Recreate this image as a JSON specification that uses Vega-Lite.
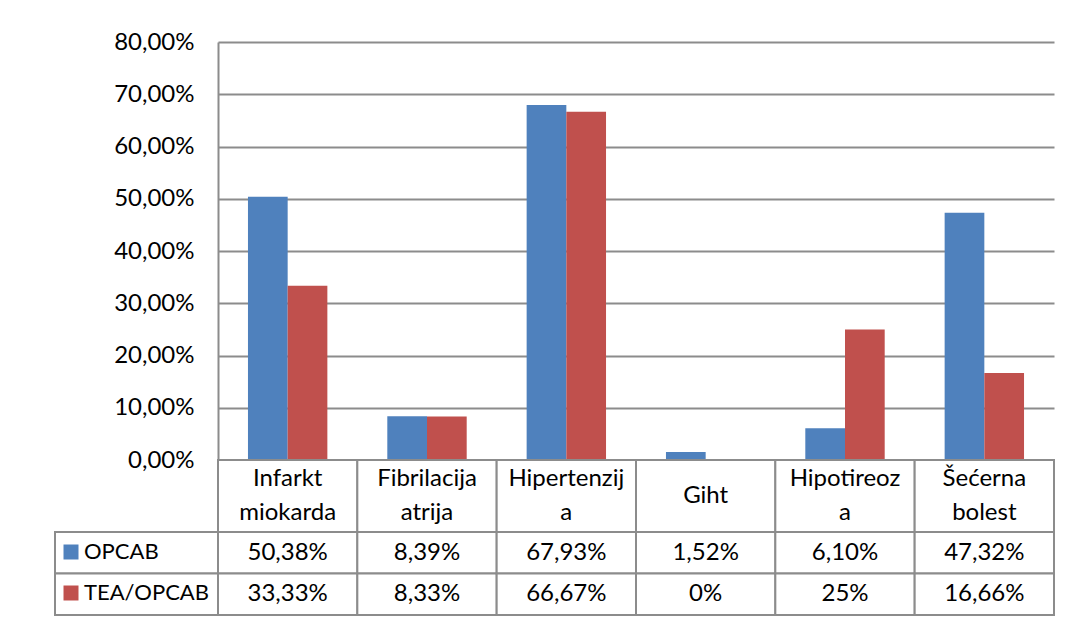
{
  "$schema": "https://vega.github.io/schema/vega-lite/v6.json",
  "padding": {"left": 54, "top": 30, "right": 5, "bottom": 5},
  "datasets": {
    "rows": [
      {"cat": "Infarkt miokarda", "series": "OPCAB", "value": 0.5038},
      {"cat": "Infarkt miokarda", "series": "TEA/OPCAB", "value": 0.3333},
      {"cat": "Fibrilacija atrija", "series": "OPCAB", "value": 0.0839},
      {"cat": "Fibrilacija atrija", "series": "TEA/OPCAB", "value": 0.0833},
      {"cat": "Hipertenzija", "series": "OPCAB", "value": 0.6793},
      {"cat": "Hipertenzija", "series": "TEA/OPCAB", "value": 0.6667},
      {"cat": "Giht", "series": "OPCAB", "value": 0.0152},
      {"cat": "Giht", "series": "TEA/OPCAB", "value": 0},
      {"cat": "Hipotireoza", "series": "OPCAB", "value": 0.061},
      {"cat": "Hipotireoza", "series": "TEA/OPCAB", "value": 0.25},
      {"cat": "Šećerna bolest", "series": "OPCAB", "value": 0.4732},
      {"cat": "Šećerna bolest", "series": "TEA/OPCAB", "value": 0.1666}
    ]
  },
  "columns": 2,
  "spacing": 0,
  "bounds": "flush",
  "concat": [
    {
      "width": 163, "height": 418,
      "data": {"values": [{}]},
      "mark": {"type": "text"},
      "encoding": {"text": {"value": ""}}
    },
    {
      "width": 836, "height": 418,
      "data": {"name": "rows"},
      "mark": {"type": "bar"},
      "encoding": {
        "x": {"field": "cat", "type": "nominal", "sort": null, "scale": {"paddingInner": 0, "paddingOuter": 0}, "axis": null},
        "xOffset": {"field": "series", "type": "nominal", "sort": null, "scale": {"paddingInner": 0, "paddingOuter": 0.755}},
        "y": {
          "field": "value", "type": "quantitative",
          "scale": {"domain": [0, 0.8], "nice": false},
          "axis": {
            "values": [0, 0.1, 0.2, 0.3, 0.4, 0.5, 0.6, 0.7, 0.8],
            "labelExpr": "replace(format(datum.value, '.2%'), '.', ',')",
            "title": null, "grid": true, "gridColor": "#8C8C8C", "gridWidth": 2,
            "ticks": false, "domainColor": "#8C8C8C", "domainWidth": 2,
            "labelFont": "Lato", "labelFontSize": 24, "labelColor": "#000000", "labelPadding": 24
          }
        },
        "color": {
          "field": "series", "type": "nominal", "sort": null,
          "scale": {"domain": ["OPCAB", "TEA/OPCAB"], "range": ["#4F81BD", "#C0504D"]},
          "legend": {
            "orient": "none", "legendX": 5, "legendY": 499,
            "title": null, "direction": "vertical",
            "symbolType": "square", "symbolSize": 225, "symbolStrokeWidth": 0, "symbolOpacity": 1,
            "labelFont": "Lato", "labelFontSize": 22, "labelColor": "#000000", "labelOffset": 2,
            "rowPadding": 19, "padding": 0
          }
        }
      }
    },
    {
      "width": 163, "height": 72,
      "data": {"values": [{}]},
      "mark": {"type": "text"},
      "encoding": {"text": {"value": ""}}
    },
    {
      "width": 836, "height": 72,
      "data": {"name": "rows"},
      "transform": [
        {"filter": "datum.series === 'OPCAB'"},
        {"calculate": "indexof(datum.cat, ' ') >= 0 ? split(datum.cat, ' ') : (length(datum.cat) > 10 ? [slice(datum.cat, 0, -1), slice(datum.cat, -1)] : datum.cat)", "as": "lines"}
      ],
      "encoding": {
        "x": {"field": "cat", "type": "nominal", "sort": null, "scale": {"paddingInner": 0, "paddingOuter": 0}, "axis": null}
      },
      "layer": [
        {"mark": {"type": "rect", "fill": "#FFFFFF", "stroke": "#8C8C8C", "strokeWidth": 2}},
        {
          "transform": [{"filter": "isArray(datum.lines)"}],
          "mark": {"type": "text", "font": "Lato", "fontSize": 24, "lineHeight": 34, "align": "center", "baseline": "middle", "dy": -17, "color": "#000000"},
          "encoding": {"text": {"field": "lines", "type": "nominal"}}
        },
        {
          "transform": [{"filter": "!isArray(datum.lines)"}],
          "mark": {"type": "text", "font": "Lato", "fontSize": 24, "align": "center", "baseline": "middle", "color": "#000000"},
          "encoding": {"text": {"field": "lines", "type": "nominal"}}
        }
      ]
    },
    {
      "width": 163, "height": 83,
      "data": {"name": "rows"},
      "transform": [{"aggregate": [{"op": "count", "as": "n"}], "groupby": ["series"]}],
      "mark": {"type": "rect", "fill": "#FFFFFF", "stroke": "#8C8C8C", "strokeWidth": 2},
      "encoding": {
        "y": {"field": "series", "type": "nominal", "sort": ["OPCAB", "TEA/OPCAB"], "scale": {"paddingInner": 0, "paddingOuter": 0}, "axis": null}
      }
    },
    {
      "width": 836, "height": 83,
      "data": {"name": "rows"},
      "transform": [
        {"calculate": "replace(round(datum.value * 10000) % 100 === 0 ? format(datum.value, '.0%') : format(datum.value, '.2%'), '.', ',')", "as": "label"}
      ],
      "encoding": {
        "x": {"field": "cat", "type": "nominal", "sort": null, "scale": {"paddingInner": 0, "paddingOuter": 0}, "axis": null},
        "y": {"field": "series", "type": "nominal", "sort": ["OPCAB", "TEA/OPCAB"], "scale": {"paddingInner": 0, "paddingOuter": 0}, "axis": null}
      },
      "layer": [
        {"mark": {"type": "rect", "fill": "#FFFFFF", "stroke": "#8C8C8C", "strokeWidth": 2}},
        {
          "mark": {"type": "text", "font": "Lato", "fontSize": 24, "align": "center", "baseline": "middle", "color": "#000000"},
          "encoding": {"text": {"field": "label", "type": "nominal"}}
        }
      ]
    }
  ],
  "config": {
    "view": {"stroke": null},
    "font": "Lato"
  }
}
